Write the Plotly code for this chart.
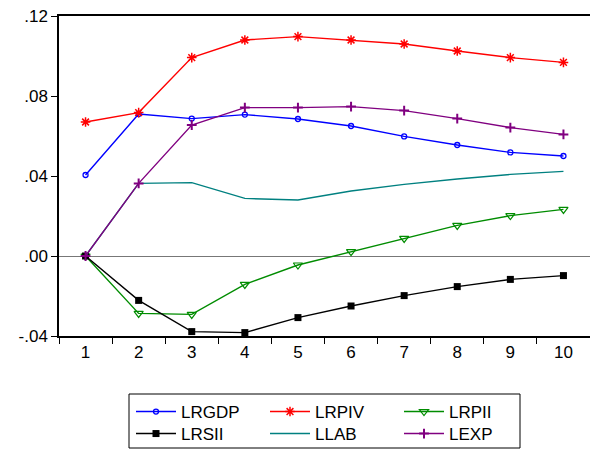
import plotly.graph_objects as go

periods = [1, 2, 3, 4, 5, 6, 7, 8, 9, 10]
lrgdp = [0.0405, 0.0710, 0.0687, 0.0707, 0.0685, 0.0650, 0.0598, 0.0555, 0.0518, 0.0500]
lrpiv = [0.0670, 0.0717, 0.0992, 0.1080, 0.1097, 0.1080, 0.1060, 0.1025, 0.0992, 0.0968]
lrpii = [0.0, -0.0287, -0.0292, -0.0142, -0.0045, 0.0022, 0.0088, 0.0153, 0.0202, 0.0233]
lrsii = [0.0, -0.0222, -0.0378, -0.0383, -0.0308, -0.0250, -0.0198, -0.0153, -0.0117, -0.0098]
llab = [0.0, 0.0363, 0.0367, 0.0288, 0.0280, 0.0325, 0.0358, 0.0385, 0.0408, 0.0423]
lexp = [0.0, 0.0363, 0.0655, 0.0742, 0.0742, 0.0747, 0.0727, 0.0687, 0.0642, 0.0608]

ytick_vals = [-0.04, 0.0, 0.04, 0.08, 0.12]
ytick_text = ["-.04", ".00", ".04", ".08", ".12"]

series = [
    ("LRGDP", lrgdp, "#0000ff", dict(symbol="circle-open", size=5, line=dict(width=1.3)), "legend"),
    ("LRPIV", lrpiv, "#ff0000", dict(symbol="asterisk-open", size=8, line=dict(width=1.5)), "legend"),
    ("LRPII", lrpii, "#008c00", dict(symbol="triangle-down-open", size=8, line=dict(width=1.2)), "legend"),
    ("LRSII", lrsii, "#000000", dict(symbol="square", size=7), "legend2"),
    ("LLAB", llab, "#008080", None, "legend2"),
    ("LEXP", lexp, "#800080", dict(symbol="cross-thin-open", size=7, line=dict(width=2)), "legend2"),
]

fig = go.Figure()
for name, vals, color, marker, leg in series:
    if marker is None:
        fig.add_trace(go.Scatter(x=periods, y=vals, name=name, mode="lines", legend=leg,
                                 line=dict(color=color, width=1.4)))
    else:
        m = dict(marker)
        m["color"] = color
        if "line" in m:
            m["line"] = dict(m["line"], color=color)
        fig.add_trace(go.Scatter(x=periods, y=vals, name=name, mode="lines+markers", legend=leg,
                                 line=dict(color=color, width=1.4), marker=m))

leg_common = dict(
    orientation="h", xref="paper", yref="container",
    x=(131 - 59) / 531, xanchor="left", yanchor="top",
    borderwidth=0, bgcolor="rgba(0,0,0,0)",
    entrywidth=79, tracegroupgap=0, itemwidth=40,
    font=dict(size=17),
)

fig.update_layout(
    width=590, height=449,
    margin=dict(l=59, r=0, t=16, b=113, autoexpand=False),
    paper_bgcolor="white", plot_bgcolor="white",
    font=dict(family="Liberation Sans, Arial", size=17, color="black"),
    showlegend=True,
    legend=dict(leg_common, y=1 - 394 / 449),
    legend2=dict(leg_common, y=1 - 416 / 449),
    shapes=[dict(type="rect", xref="paper", yref="paper",
                 x0=(129 - 59) / 531, x1=(520 - 59) / 531,
                 y0=(336 - 448) / 320, y1=(336 - 394) / 320,
                 line=dict(color="black", width=1))],
    xaxis=dict(
        range=[0.5, 10.5], tickmode="array", tickvals=periods,
        ticktext=[str(p) for p in periods], ticks="",
        showgrid=False, zeroline=False,
        showline=True, linecolor="black", linewidth=1.5, mirror=True,
        minor=dict(tickmode="linear", tick0=0.5, dtick=1, ticks="outside",
                   ticklen=6, tickcolor="black", showgrid=False),
        tickfont=dict(size=17),
    ),
    yaxis=dict(
        range=[-0.04, 0.12], tickmode="array", tickvals=ytick_vals, ticktext=ytick_text,
        ticks="outside", ticklen=6, tickcolor="black",
        showgrid=False, zeroline=True, zerolinecolor="#777777", zerolinewidth=1.2,
        showline=True, linecolor="black", linewidth=1.5,
        tickfont=dict(size=17),
    ),
)

fig.write_html("out.html")
